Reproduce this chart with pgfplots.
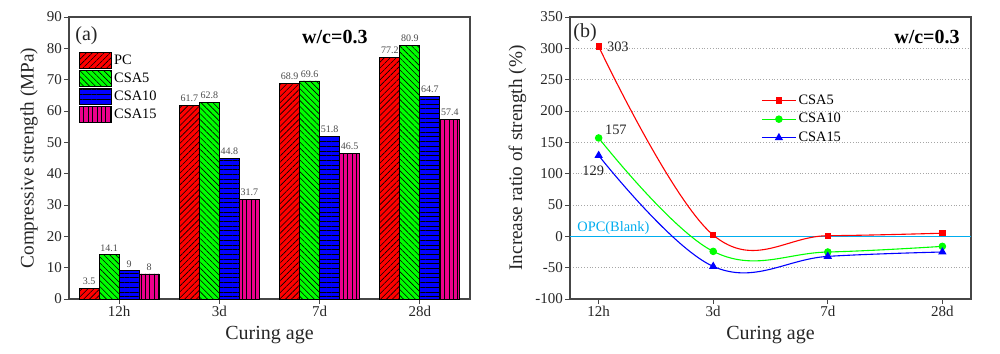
\documentclass[border=0pt]{standalone}
\usepackage{pgfplots}
\pgfplotsset{compat=1.18}
\usepackage{fontspec}
\setmainfont{Liberation Serif}
\usetikzlibrary{patterns.meta}
\definecolor{axgray}{RGB}{70,70,70}
\pgfplotsset{
  mystyle/.style={
    /pgf/number format/assume math mode=true,
    scale only axis, width=200.5pt, height=141pt,
    anchor=south west,
    axis line style={axgray, line width=0.6pt},
    tick align=outside, xtick pos=left, ytick pos=left,
    major tick length=2.4pt,
    tick style={axgray, line width=0.5pt},
    tick label style={font=\fontsize{7.5}{9}\selectfont, text=black!85, inner sep=1pt},
    xlabel style={font=\fontsize{10}{12}\selectfont, text=black!85},
    ylabel style={font=\fontsize{9.6}{11}\selectfont, text=black!85},
    xtick={0,1,2,3}, xticklabels={12h,3d,7d,28d},
    xlabel={Curing age},
  }
}
\begin{document}
\begin{tikzpicture}
\path[use as bounding box] (0,0) rectangle (500pt,176.5pt);
\begin{axis}[mystyle, at={(34.5pt,27pt)},
  ybar=0pt, bar width=10pt,
  xmin=-0.5, xmax=3.5, ymin=0, ymax=90, ytick={0,10,...,90},
  ylabel={Compressive strength (MPa)},
  nodes near coords,
  every node near coord/.append style={font=\fontsize{5}{6}\selectfont, text=black!70, inner sep=1.6pt},
  legend style={draw=none, fill=none, at={(axis description cs:0,1)}, anchor=north west, xshift=5pt, yshift=-17pt, font=\fontsize{7.2}{8}\selectfont, row sep=0pt, inner sep=0pt, cells={anchor=west}, nodes={inner sep=1pt, text height=5.5pt, text depth=1.5pt}},
  legend image code/.code={\draw[#1] (0pt,-4pt) rectangle (16pt,4pt);},
]
\addplot[draw=black, line width=0.4pt, fill=red, postaction={pattern={Lines[angle=45,distance=2.1pt,line width=0.3pt]}, pattern color=black}] coordinates {(0,3.5) (1,61.7) (2,68.9) (3,77.2)};
\addplot[draw=black, line width=0.4pt, fill=green, postaction={pattern={Lines[angle=-45,distance=2.1pt,line width=0.3pt]}, pattern color=black}] coordinates {(0,14.1) (1,62.8) (2,69.6) (3,80.9)};
\addplot[draw=black, line width=0.4pt, fill=blue, postaction={pattern={Lines[angle=0,distance=2.35pt,line width=0.3pt]}, pattern color=black}] coordinates {(0,9) (1,44.8) (2,51.8) (3,64.7)};
\addplot[draw=black, line width=0.4pt, fill=magenta, postaction={pattern={Lines[angle=90,distance=2.2pt,line width=0.25pt]}, pattern color=black}] coordinates {(0,8) (1,31.7) (2,46.5) (3,57.4)};
\legend{PC,CSA5,CSA10,CSA15}
\node[anchor=west, inner sep=0pt, font=\fontsize{10}{12}\selectfont, text=black!85] at (rel axis cs:0.015,0.933) {(a)};
\node[inner sep=0pt, font=\fontsize{10}{12}\selectfont\bfseries] at (rel axis cs:0.663,0.929) {w/c=0.3};
\end{axis}
\begin{axis}[mystyle, at={(285pt,27pt)},
  xmin=-0.25, xmax=3.25, ymin=-100, ymax=350, ytick={-100,-50,...,350},
  ylabel={Increase ratio of strength (\%)},
  ymajorgrids, grid style={densely dotted, gray!70, line width=0.5pt},
  legend style={draw=none, fill=none, at={(rel axis cs:0.476,0.738)}, anchor=north west, font=\fontsize{7.2}{8}\selectfont, row sep=0pt, inner sep=0pt, cells={anchor=west}, nodes={inner sep=1pt, text height=5.5pt, text depth=1.8pt}},
]
\addplot[cyan, line width=0.8pt, forget plot] coordinates {(-0.25,0) (3.25,0)};
\addplot[red, smooth, tension=0.65, line width=0.55pt, mark=square*, mark size=1.3pt, mark options={fill=red, solid}] coordinates {(0,303) (1,2) (2,1) (3,5)};
\addplot[green, smooth, tension=0.65, line width=0.55pt, mark=*, mark size=1.6pt, mark options={fill=green, solid}] coordinates {(0,157) (1,-24) (2,-25) (3,-16)};
\addplot[blue, smooth, tension=0.65, line width=0.55pt, mark=triangle*, mark size=1.9pt, mark options={fill=blue, solid}] coordinates {(0,129) (1,-48) (2,-32) (3,-25)};
\legend{CSA5,CSA10,CSA15}
\node[anchor=west, inner sep=0pt, font=\fontsize{7.2}{8}\selectfont, text=black!85, xshift=4pt] at (axis cs:0,303) {303};
\node[anchor=west, inner sep=0pt, font=\fontsize{7.2}{8}\selectfont, text=black!85, xshift=3pt, yshift=4pt] at (axis cs:0,157) {157};
\node[inner sep=0pt, font=\fontsize{7.2}{8}\selectfont, text=black!85, xshift=-2.75pt, yshift=-7.75pt] at (axis cs:0,129) {129};
\node[anchor=west, inner sep=0pt, font=\fontsize{7.2}{8}\selectfont, text=cyan, xshift=3.5pt, yshift=4.25pt] at (axis cs:-0.25,0) {OPC(Blank)};
\node[anchor=west, inner sep=0pt, font=\fontsize{10}{12}\selectfont, text=black!85] at (rel axis cs:0.0075,0.943) {(b)};
\node[anchor=east, inner sep=0pt, font=\fontsize{10}{12}\selectfont\bfseries] at (rel axis cs:0.9726,0.929) {w/c=0.3};
\end{axis}
\end{tikzpicture}
\end{document}
